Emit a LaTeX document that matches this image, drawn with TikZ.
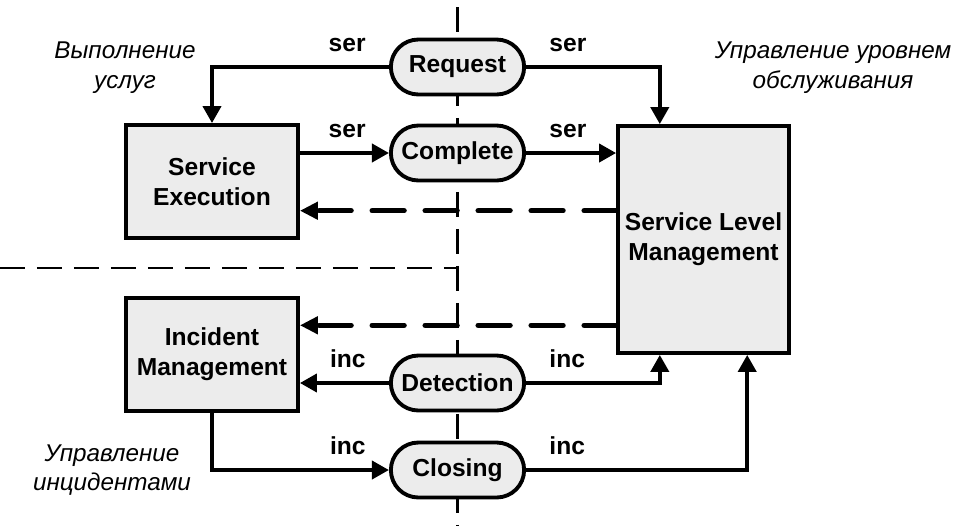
\documentclass[tikz,border=0pt]{standalone}
\usepackage{fontspec}
\setmainfont{Liberation Sans}
\usetikzlibrary{positioning, arrows.meta, shapes.misc, calc}

\tikzset{
  proc/.style={draw, line width=2.2pt, fill=gray!15, minimum width=3.44cm, minimum height=2.26cm,
    align=center, font=\bfseries\fontsize{14}{17}\selectfont},
  evt/.style={rounded rectangle, draw, line width=2.2pt, fill=gray!15, minimum width=2.9cm,
    minimum height=1.1cm, font=\bfseries\fontsize{14}{17}\selectfont},
  flow/.style={-{Triangle[length=0.34cm, width=0.36cm]}, line width=2.2pt},
  back/.style={-{Triangle[length=0.36cm, width=0.34cm]}, line width=3pt, line cap=round,
    dash pattern=on 0.64cm off 0.42cm},
  divide/.style={line width=1.4pt, dash pattern=on 0.5cm off 0.24cm},
  lbl/.style={inner sep=0pt, font=\bfseries\fontsize{14}{17}\selectfont},
  note/.style={align=center, font=\itshape\fontsize{13.8}{17}\selectfont}
}

\begin{document}
\begin{tikzpicture}[x=0.02cm, y=-0.02cm]
  \useasboundingbox (0,0) rectangle (955,525);
  % lanes
  \draw[divide] (457.5,7) -- (457.5,525);
  \draw[divide] (0,268) -- (457.5,268);

  \node[proc] (se) at (212,181.5) {Service\\Execution};
  \node[proc] (im) at (212,354.5) {Incident\\Management};
  \node[proc, minimum width=3.42cm, minimum height=4.54cm] (slm) at (703.5,239.5) {Service Level\\Management};

  \node[evt] (req) at (457.5,67) {Request};
  \node[evt] (cmp) at (457.5,153) {Complete};
  \node[evt] (det) at (457.5,383) {Detection};
  \node[evt] (cls) at (457.5,470) {Closing};

  \node[note] (nse) at (125,68) {Выполнение\\услуг};
  \node[note] (nslm) at (833,68) {Управление уровнем\\обслуживания};
  \node[note] (nim) at (112,470) {Управление\\инцидентами};

  \coordinate (slm-t) at ($(slm.north west)!.25!(slm.north east)$);
  \coordinate (slm-a) at ($(slm.south west)!.25!(slm.south east)$);
  \coordinate (slm-b) at ($(slm.south west)!.75!(slm.south east)$);

  \draw[flow] (req.west) -| (se.north);
  \draw[flow] (req.east) -| (slm-t);
  \draw[flow] (cmp.west -| se.east) -- (cmp.west);
  \draw[flow] (cmp.east) -- (cmp.east -| slm.west);
  \draw[flow] (det.west) -- (det.west -| im.east);
  \draw[flow] (det.east) -| (slm-a);
  \draw[flow] (im.south) |- (cls.west);
  \draw[flow] (cls.east) -| (slm-b);

  % feedback from SLM
  \coordinate (se-b) at ($(se.east)!.5!(se.south east)$);
  \coordinate (im-b) at ($(im.east)!.5!(im.north east)$);
  \draw[back] (slm.west |- se-b) -- (se-b);
  \draw[back] (slm.west |- im-b) -- (im-b);

  \foreach \p/\t in {req/ser, cmp/ser, det/inc, cls/inc} {
    \node[lbl, above left=0.3cm and 0.46cm of \p.west] (\p-l) {\t};
    \node[lbl, above right=0.3cm and 0.46cm of \p.east] (\p-r) {\t};
  }
\end{tikzpicture}
\end{document}
